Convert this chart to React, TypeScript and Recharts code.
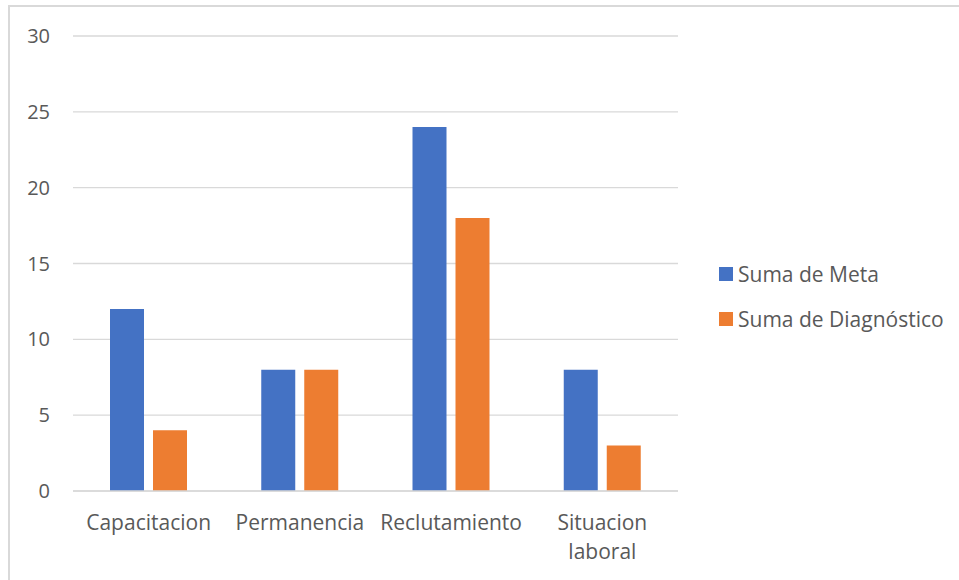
import React from "react";
import {
  BarChart,
  Bar,
  XAxis,
  YAxis,
  CartesianGrid,
  Legend,
} from "recharts";

const CATEGORIES = ["Capacitacion", "Permanencia", "Reclutamiento", "Situacion laboral"];
const META = [12, 8, 24, 8];
const DIAGNOSTICO = [4, 8, 18, 3];
const Y_TICKS = [0, 5, 10, 15, 20, 25, 30];

const SERIES = [
  { key: "meta", label: "Suma de Meta", color: "#4472C4" },
  { key: "diagnostico", label: "Suma de Diagnóstico", color: "#ED7D31" },
];

const data = CATEGORIES.map((name, i) => ({
  name,
  meta: META[i],
  diagnostico: DIAGNOSTICO[i],
}));

const FONT = "'Open Sans', sans-serif";
const TEXT = "#595959";
const GRID = "#d9d9d9";

// wraps multi-word category names onto separate lines like Excel does
function CategoryTick(props: any) {
  const { x, y, payload } = props;
  const lines = String(payload.value).split(" ");
  return (
    <text x={x} y={y} textAnchor="middle" fill={TEXT} fontSize={21} fontFamily={FONT}>
      {lines.map((line, i) => (
        <tspan key={i} x={x} dy={i === 0 ? 31 : 29}>
          {line}
        </tspan>
      ))}
    </text>
  );
}

function LegendContent(props: any) {
  const { payload = [] } = props;
  return (
    <div style={{ fontFamily: FONT, fontSize: 21, color: TEXT }}>
      {payload.map((entry: any) => (
        <div key={entry.value} style={{ display: "flex", alignItems: "center", height: 45 }}>
          <span
            style={{ width: 14, height: 14, background: entry.color, marginRight: 5, display: "inline-block" }}
          />
          <span>{entry.value}</span>
        </div>
      ))}
    </div>
  );
}

export default function App() {
  return (
    <div style={{ position: "absolute", left: 0, top: 0, width: 959, height: 580, background: "#fff", overflow: "hidden" }}>
      <div
        style={{
          position: "absolute",
          left: 8,
          top: 5,
          width: 959,
          height: 600,
          borderLeft: `2px solid ${GRID}`,
          borderTop: `2px solid ${GRID}`,
        }}
      />
      <div style={{ position: "absolute", left: 0, top: 0 }}>
        <BarChart
          width={959}
          height={580}
          data={data}
          margin={{ top: 36, right: 281, bottom: 29, left: 33 }}
          barSize={34}
          barGap={9}
        >
          <CartesianGrid vertical={false} stroke={GRID} strokeWidth={1.3} />
          <XAxis
            dataKey="name"
            axisLine={{ stroke: GRID, strokeWidth: 1.3 }}
            tickLine={false}
            height={60}
            interval={0}
            tick={<CategoryTick />}
          />
          <YAxis
            domain={[0, 30]}
            ticks={Y_TICKS}
            width={40}
            axisLine={false}
            tickLine={false}
            tickMargin={17}
            tick={{ fill: TEXT, fontSize: 20, fontFamily: FONT }}
          />
          <Legend
            layout="horizontal"
            verticalAlign="middle"
            align="center"
            itemSorter={(item: any) => SERIES.findIndex((s) => s.label === item.value)}
            wrapperStyle={{ left: 719, top: 251, width: 240 }}
            content={<LegendContent />}
          />
          {SERIES.map((s) => (
            <Bar key={s.key} dataKey={s.key} name={s.label} fill={s.color} isAnimationActive={false} />
          ))}
        </BarChart>
      </div>
    </div>
  );
}
